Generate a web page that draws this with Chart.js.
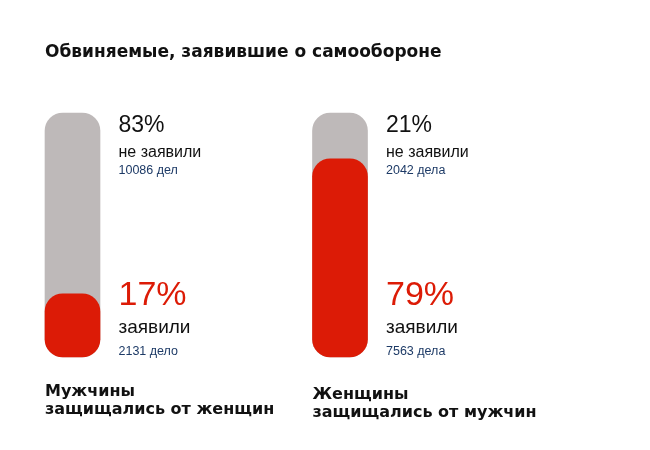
<!DOCTYPE html>
<html>
<head>
<meta charset="utf-8">
<script src="https://cdn.jsdelivr.net/npm/chart.js@4.4.1/dist/chart.umd.min.js"></script>
<style>
  html, body { margin: 0; padding: 0; background: #fff; }
  #wrap { width: 650px; height: 450px; position: relative; }
</style>
</head>
<body>
<div id="wrap"><canvas id="chart"></canvas></div>
<script>
// data
const groupLines = [
  ['Мужчины', 'защищались от женщин'],
  ['Женщины', 'защищались от мужчин']
];
const claimedPct = [17, 79];
const notClaimedPct = [83, 21];
const claimedCases = ['2131 дело', '7563 дела'];
const notClaimedCases = ['10086 дел', '2042 дела'];
const claimedLabel = 'заявили';
const notClaimedLabel = 'не заявили';
const chartTitle = 'Обвиняемые, заявившие о самообороне';

const Y_MIN = -12;
const RED = '#dc1b06';
const GREY = '#beb9b9';
const BLUE = '#1d3a66';
const FONT = '"Liberation Sans", Arial, sans-serif';
const BOLD = '"DejaVu Sans", sans-serif';

// texts drawn next to the bars + title + group names
const textPlugin = {
  id: 'texts',
  afterDraw(chart) {
    const ctx = chart.ctx;
    const meta = chart.getDatasetMeta(0);
    ctx.save();
    ctx.textBaseline = 'alphabetic';
    ctx.textAlign = 'left';

    ctx.fillStyle = '#111';
    ctx.font = 'bold 17px ' + BOLD;
    ctx.fillText(chartTitle, 45, 57);

    meta.data.forEach((bar, i) => {
      const tx = bar.x + 46;
      const left = bar.x - 27.5;

      ctx.fillStyle = '#111';
      ctx.font = '23px ' + FONT;
      ctx.fillText(notClaimedPct[i] + '%', tx, 132);
      ctx.font = '16px ' + FONT;
      ctx.fillText(notClaimedLabel, tx, 157);
      ctx.fillStyle = BLUE;
      ctx.font = '12.5px ' + FONT;
      ctx.fillText(notClaimedCases[i], tx, 174);

      ctx.fillStyle = RED;
      ctx.font = '34px ' + FONT;
      ctx.fillText(claimedPct[i] + '%', tx, 305);
      ctx.fillStyle = '#111';
      ctx.font = '19px ' + FONT;
      ctx.fillText(claimedLabel, tx, 333);
      ctx.fillStyle = BLUE;
      ctx.font = '12.5px ' + FONT;
      ctx.fillText(claimedCases[i], tx, 355);

      ctx.fillStyle = '#111';
      ctx.font = 'bold 16px ' + BOLD;
      const dy = i === 0 ? 0 : 3;
      groupLines[i].forEach((ln, k) => {
        ctx.fillText(ln, left, 396 + dy + k * 18);
      });
    });
    ctx.restore();
  }
};

new Chart(document.getElementById('chart'), {
  type: 'bar',
  data: {
    labels: groupLines.map(l => l.join(' ')),
    datasets: [
      {
        label: claimedLabel,
        data: claimedPct,
        backgroundColor: RED,
        order: 0
      },
      {
        label: notClaimedLabel,
        data: claimedPct.map((v, i) => v + notClaimedPct[i]),
        backgroundColor: GREY,
        order: 1
      }
    ]
  },
  options: {
    responsive: true,
    maintainAspectRatio: false,
    animation: false,
    layout: { padding: { left: 72.5, right: 310, top: 113, bottom: 93 } },
    datasets: {
      bar: {
        grouped: false,
        base: Y_MIN,
        barThickness: 55,
        borderRadius: 18,
        borderSkipped: false,
        clip: false
      }
    },
    plugins: {
      legend: { display: false },
      tooltip: { enabled: false },
      title: { display: false }
    },
    scales: {
      x: { display: false, offset: false, grid: { display: false } },
      y: { display: false, min: Y_MIN, max: 100 }
    }
  },
  plugins: [textPlugin]
});
</script>
</body>
</html>
